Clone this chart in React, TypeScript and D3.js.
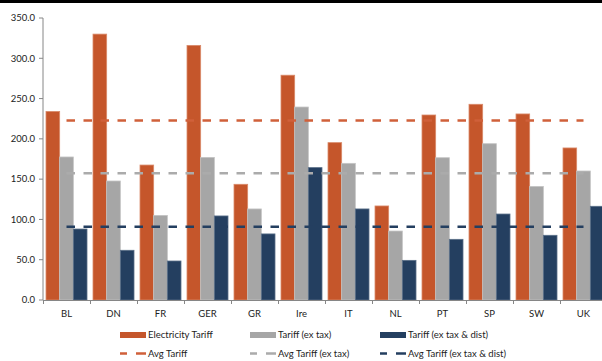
import React from "react";
import * as d3 from "d3";

const countries = ["BL", "DN", "FR", "GER", "GR", "Ire", "IT", "NL", "PT", "SP", "SW", "UK"];
const electricityTariff = [234, 330, 167.5, 316, 143.6, 279, 195.3, 116.7, 229.6, 242.9, 230.9, 188.7];
const tariffExTax = [177.5, 147.7, 105, 177, 113, 239.5, 169.6, 85.6, 176.6, 194, 141, 160.1];
const tariffExTaxDist = [88.1, 61.7, 48.4, 104.3, 82, 164.3, 113, 49.2, 75.3, 106.7, 80.3, 116.3];
const yTicks = [0, 50, 100, 150, 200, 250, 300, 350];

const seriesNames = ["Electricity Tariff", "Tariff (ex tax)", "Tariff (ex tax & dist)"];
const avgNames = ["Avg Tariff", "Avg Tariff (ex tax)", "Avg Tariff (ex tax & dist)"];
const seriesValues = [electricityTariff, tariffExTax, tariffExTaxDist];
const colors = ["#C5562B", "#A6A6A6", "#243F60"];
const strokes = ["#D98A6A", "#C4C4C4", "#5A6F88"];

const W = 602;
const H = 361;
const FONT = "Lato, 'Open Sans', sans-serif";

export default function App() {
  const x = d3.scaleBand<string>().domain(countries).range([43, 607]);
  const xs = d3.scaleBand<number>().domain([0, 1, 2]).range([3, 44]);
  const y = d3.scaleLinear().domain([0, 350]).range([300, 18]);
  const bw = x.bandwidth();
  const averages = seriesValues.map((s) => d3.mean(s) as number);
  const lineX0 = (x(countries[0]) as number) + bw / 2;
  const lineX1 = (x(countries[countries.length - 1]) as number) + bw / 2;

  const legendX = [120, 250, 380];

  return (
    <svg
      width={W}
      height={H}
      style={{ position: "absolute", left: 0, top: 0, background: "#fff" }}
      fontFamily={FONT}
    >
      <rect x={0} y={0} width={W} height={3} fill="#000" />

      {/* bars */}
      {seriesValues.map((vals, si) =>
        vals.map((v, i) => (
          <rect
            key={`${si}-${i}`}
            x={(x(countries[i]) as number) + (xs(si) as number)}
            y={y(v)}
            width={xs.bandwidth()}
            height={y(0) - y(v)}
            fill={colors[si]}
            stroke={strokes[si]}
            strokeWidth={0.8}
          />
        ))
      )}

      {/* average lines */}
      {averages.map((a, si) => (
        <line
          key={`avg-${si}`}
          x1={lineX0}
          x2={lineX1}
          y1={y(a)}
          y2={y(a)}
          stroke={si === 0 ? "#D0603A" : si === 1 ? "#ABABAB" : colors[2]}
          strokeWidth={2.5}
          strokeDasharray="8.5 8.5"
        />
      ))}

      {/* y axis */}
      <line x1={43} x2={43} y1={18} y2={300} stroke="#868686" strokeWidth={1} />
      {yTicks.map((t) => (
        <g key={`yt-${t}`}>
          <line x1={39} x2={43} y1={y(t)} y2={y(t)} stroke="#868686" />
          <text
            x={35}
            y={y(t)}
            dy="0.35em"
            textAnchor="end"
            fontSize={9.5}
            fill="#222"
          >
            {t.toFixed(1)}
          </text>
        </g>
      ))}

      {/* x axis */}
      <line x1={43} x2={W} y1={300.5} y2={300.5} stroke="#868686" />
      {countries.map((c) => (
        <g key={`xt-${c}`}>
          <line
            x1={(x(c) as number) + 0.5}
            x2={(x(c) as number) + 0.5}
            y1={300}
            y2={304}
            stroke="#868686"
          />
          <text
            x={(x(c) as number) + bw / 2}
            y={317}
            textAnchor="middle"
            fontSize={9.5}
            fill="#222"
          >
            {c}
          </text>
        </g>
      ))}

      {/* legend */}
      {seriesNames.map((n, si) => (
        <g key={`lg-${si}`}>
          <rect x={legendX[si]} y={332} width={26} height={6} fill={colors[si]} />
          <text x={legendX[si] + 28} y={338} fontSize={9.5} fill="#222">
            {n}
          </text>
        </g>
      ))}
      {avgNames.map((n, si) => (
        <g key={`la-${si}`}>
          <line
            x1={legendX[si]}
            x2={legendX[si] + 26}
            y1={353.5}
            y2={353.5}
            stroke={si === 0 ? "#D0603A" : si === 1 ? "#ABABAB" : colors[2]}
            strokeWidth={2.5}
            strokeDasharray="7 9 10"
          />
          <text x={legendX[si] + 28} y={357} fontSize={9.5} fill="#222">
            {n}
          </text>
        </g>
      ))}
    </svg>
  );
}
